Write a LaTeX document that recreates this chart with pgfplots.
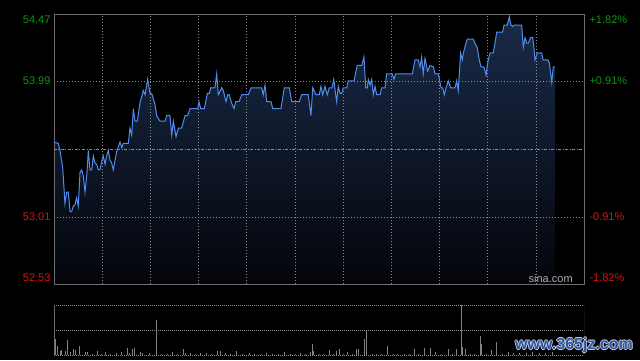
\documentclass[border=0pt]{standalone}
\usepackage{pgfplots}
\pgfplotsset{compat=1.18}
\usepackage{pgfplotstable}
\usepackage{fontspec}
\setmainfont{Liberation Sans}
\definecolor{upg}{RGB}{16,150,16}
\definecolor{dnr}{RGB}{220,20,20}
\definecolor{lineb}{RGB}{80,140,235}
\definecolor{fillt}{RGB}{26,42,72}
\definecolor{fillb}{RGB}{3,5,10}
\definecolor{gridc}{RGB}{140,140,140}
\definecolor{framec}{RGB}{110,110,110}
\definecolor{volc}{RGB}{130,130,130}
\definecolor{wmb}{RGB}{45,85,165}

\pgfplotstableread{
m p
0.0 53.55
2.7 53.54
3.7 53.49
5.4 53.37
6.8 53.11
7.9 53.19
8.9 53.19
10.0 53.05
11.0 53.05
12.0 53.09
13.1 53.10
14.1 53.15
15.1 53.09
16.2 53.33
17.2 53.35
18.2 53.31
19.3 53.19
20.4 53.31
21.4 53.49
22.4 53.35
23.5 53.35
24.5 53.45
25.5 53.40
26.6 53.39
27.6 53.35
28.6 53.35
29.7 53.41
30.7 53.45
31.8 53.39
32.8 53.45
33.8 53.49
34.9 53.42
35.9 53.40
36.9 53.35
38.0 53.42
39.0 53.48
41.1 53.55
42.2 53.51
43.1 53.54
46.3 53.54
47.3 53.65
48.4 53.60
49.4 53.79
50.4 53.70
51.9 53.70
53.5 53.83
55.6 53.92
56.7 53.89
58.3 54.00
59.8 53.90
60.8 53.90
62.9 53.82
63.9 53.74
66.0 53.70
69.1 53.70
70.2 53.74
72.2 53.74
73.3 53.60
74.3 53.70
76.0 53.59
77.4 53.65
79.5 53.65
81.6 53.74
83.2 53.74
84.7 53.79
89.5 53.79
90.3 53.84
91.3 53.79
93.6 53.79
95.5 53.90
96.7 53.90
97.6 53.94
100.2 53.94
101.3 54.04
102.3 53.89
104.4 53.94
105.4 53.92
107.1 53.84
108.2 53.89
109.1 53.89
110.6 53.83
112.1 53.79
113.1 53.84
115.2 53.84
116.9 53.89
121.0 53.89
122.7 53.94
129.3 53.94
130.3 53.89
131.4 53.96
132.4 53.84
135.1 53.84
136.2 53.79
141.3 53.79
143.4 53.94
146.5 53.94
148.0 53.84
152.7 53.84
154.2 53.89
158.3 53.89
160.0 53.74
161.1 53.94
163.1 53.89
165.2 53.89
166.2 53.95
167.3 53.89
168.7 53.95
170.2 53.89
171.4 53.94
173.1 53.94
174.2 54.00
175.2 53.91
176.0 53.84
177.0 53.95
178.1 53.90
179.1 53.90
180.1 53.94
182.2 53.94
183.2 53.99
186.8 53.99
188.8 54.10
191.6 54.10
193.0 54.16
194.1 53.94
195.1 53.94
195.7 54.00
196.8 53.96
197.8 54.00
198.8 53.89
199.9 53.95
200.9 53.89
203.0 53.89
204.0 53.94
206.1 53.94
207.1 54.04
210.6 54.04
211.7 54.00
212.7 54.04
223.1 54.04
224.8 54.14
226.8 54.14
227.9 54.09
228.9 54.16
229.9 54.04
231.0 54.15
232.6 54.06
234.1 54.10
236.2 54.09
237.2 54.04
239.3 54.04
241.0 53.94
242.0 53.94
243.0 53.89
244.1 53.94
245.5 53.99
247.0 53.94
249.7 53.94
250.7 53.99
251.7 53.92
253.2 54.19
254.2 54.14
254.9 54.19
256.5 54.26
257.3 54.29
261.1 54.29
262.1 54.26
263.5 54.23
264.8 54.14
265.9 54.09
267.7 54.09
269.0 54.03
269.8 54.10
270.4 54.14
271.5 54.19
273.5 54.19
275.0 54.29
275.6 54.34
279.3 54.34
280.2 54.39
282.2 54.39
283.5 54.45
284.5 54.39
285.6 54.38
286.6 54.39
291.2 54.39
292.2 54.23
293.3 54.30
294.3 54.26
295.3 54.26
296.8 54.30
298.1 54.30
298.9 54.22
299.5 54.14
300.9 54.19
303.6 54.19
304.6 54.14
307.4 54.14
308.4 54.12
309.9 53.98
310.9 54.09
311.9 54.09
}\price

% area under the price line: baseline start, the price series, baseline end
\pgfplotstableread{
m p
0.0 52.53
}\pricefill
\pgfplotstablevertcat{\pricefill}{\price}
\pgfplotstableread{
m p
311.9 52.53
}\fillend
\pgfplotstablevertcat{\pricefill}{\fillend}

\pgfplotstableread{
m v
0.6 33
2.1 18
3.7 9
4.8 10
6.8 9
8.3 30
10.4 7
12.0 13
13.5 11
15.8 18
19.3 6
20.7 6
24.0 3
27.0 9
29.5 3
31.8 7
35.0 3
38.6 5
41.7 7
45.6 15
46.9 5
48.8 13
50.0 15
53.5 7
55.2 5
59.3 4
63.9 71
67.0 3
70.5 3
73.7 7
77.0 3
80.5 12
82.0 5
84.7 4
88.0 3
90.9 4
94.6 4
98.0 3
101.7 9
103.4 9
106.9 4
110.0 3
113.3 9
117.0 3
121.6 4
125.0 3
129.0 3
132.4 4
136.0 3
140.0 3
143.2 6
147.0 3
150.0 3
153.2 4
156.5 3
159.4 6
160.8 23
161.4 9
165.0 3
168.0 3
171.4 10
174.0 3
176.0 9
177.6 12
180.0 3
182.8 7
186.0 3
188.4 13
189.5 13
193.2 33
194.5 49
198.0 3
201.0 3
204.0 3
207.5 18
211.0 3
214.0 3
218.0 3
221.0 3
224.3 12
227.0 3
230.6 15
234.1 15
237.2 7
241.0 3
245.5 13
248.0 3
250.3 12
253.6 104
254.4 16
256.1 12
259.0 3
262.0 3
265.4 38
266.1 23
269.0 3
272.5 10
275.4 27
279.0 3
282.9 7
286.0 4
290.0 5
294.0 4
298.0 6
302.0 4
306.0 5
310.0 6
}\volume

\begin{document}
\begin{tikzpicture}[x=1pt,y=1pt]
\fill[black] (0pt,0pt) rectangle (640pt,360pt);

% shaded area (drawn first, below the grid)
\begin{axis}[
  at={(54pt,76pt)}, anchor=south west, scale only axis,
  width=530pt, height=270pt,
  xmin=0, xmax=330, ymin=52.53, ymax=54.47,
  hide axis,
]
\addplot[draw=none, top color=fillt, bottom color=fillb] table[x=m, y=p]{\pricefill};
\end{axis}

% main price panel
\begin{axis}[
  at={(54pt,76pt)}, anchor=south west, scale only axis,
  width=530pt, height=270pt,
  xmin=0, xmax=330, ymin=52.53, ymax=54.47,
  axis line style={draw=framec, line width=0.75pt},
  xtick={30,60,...,300}, xticklabels={},
  ytick={52.53,53.01,53.99,54.47},
  yticklabels={
    {\raisebox{6pt}[\height][\depth]{\textcolor{dnr}{52.53}}},
    {\textcolor{dnr}{53.01}},
    {\textcolor{upg}{53.99}},
    {\raisebox{-6pt}[\height][\depth]{\textcolor{upg}{54.47}}}},
  extra y ticks={53.50}, extra y tick labels={},
  extra y tick style={grid=major, major grid style={draw=gridc, line width=0.6pt, dash pattern=on 3pt off 1.5pt on 1pt off 1.5pt}},
  major tick length=0pt,
  grid=major,
  major grid style={draw=gridc, line width=0.6pt, dash pattern=on 1pt off 2pt},
  tick label style={font=\fontsize{11}{13}\selectfont},
  /pgf/number format/assume math mode=true,
]
\addplot[draw=lineb, line width=1pt, no marks] table[x=m, y=p]{\price};
\node[anchor=base east, inner sep=0pt, text={rgb,255:red,175;green,175;blue,175},
  font=\fontsize{11}{13}\selectfont] at (rel axis cs:0.979,0.006) {sina.com};
\end{axis}

% right percentage labels
\begin{axis}[
  at={(54pt,76pt)}, anchor=south west, scale only axis,
  width=530pt, height=270pt,
  xmin=0, xmax=330, ymin=52.53, ymax=54.47,
  axis x line=none, axis y line*=right,
  axis line style={draw=none},
  ytick={52.53,53.01,53.99,54.47},
  yticklabels={
    {\raisebox{6pt}[\height][\depth]{\textcolor{dnr}{-1.82\%}}},
    {\textcolor{dnr}{-0.91\%}},
    {\textcolor{upg}{+0.91\%}},
    {\raisebox{-6pt}[\height][\depth]{\textcolor{upg}{+1.82\%}}}},
  major tick length=0pt,
  yticklabel style={xshift=2pt},
  tick label style={font=\fontsize{11}{13}\selectfont},
]
\end{axis}

% volume panel
\begin{axis}[
  at={(54pt,5pt)}, anchor=south west, scale only axis,
  width=530pt, height=50pt,
  xmin=0, xmax=330, ymin=0, ymax=100,
  axis line style={draw=none},
  xtick=\empty,
  ytick={0,50,100}, yticklabels={},
  major tick length=0pt,
  ymajorgrids,
  major grid style={draw=gridc, line width=0.6pt, dash pattern=on 1pt off 1pt},
]
\addplot[ycomb, draw=volc, line width=0.75pt, no marks] table[x=m, y=v]{\volume};
\draw[framec, line width=0.75pt] (rel axis cs:0,0) -- (rel axis cs:0,1);
\draw[framec, line width=0.75pt] (rel axis cs:1,0) -- (rel axis cs:1,1);
\end{axis}

% watermark
\foreach \dx/\dy in {0.9/0, -0.9/0, 0/0.9, 0/-0.9}{
  \node[text={rgb,255:red,200;green,205;blue,215}, font=\bfseries\fontsize{16}{18}\selectfont, inner sep=0pt]
    at (574pt+\dx pt,14.5pt+\dy pt) {www.365jz.com};
}
\node[text=wmb, font=\bfseries\fontsize{16}{18}\selectfont, inner sep=0pt] at (574pt,14.5pt) {www.365jz.com};
\end{tikzpicture}
\end{document}
